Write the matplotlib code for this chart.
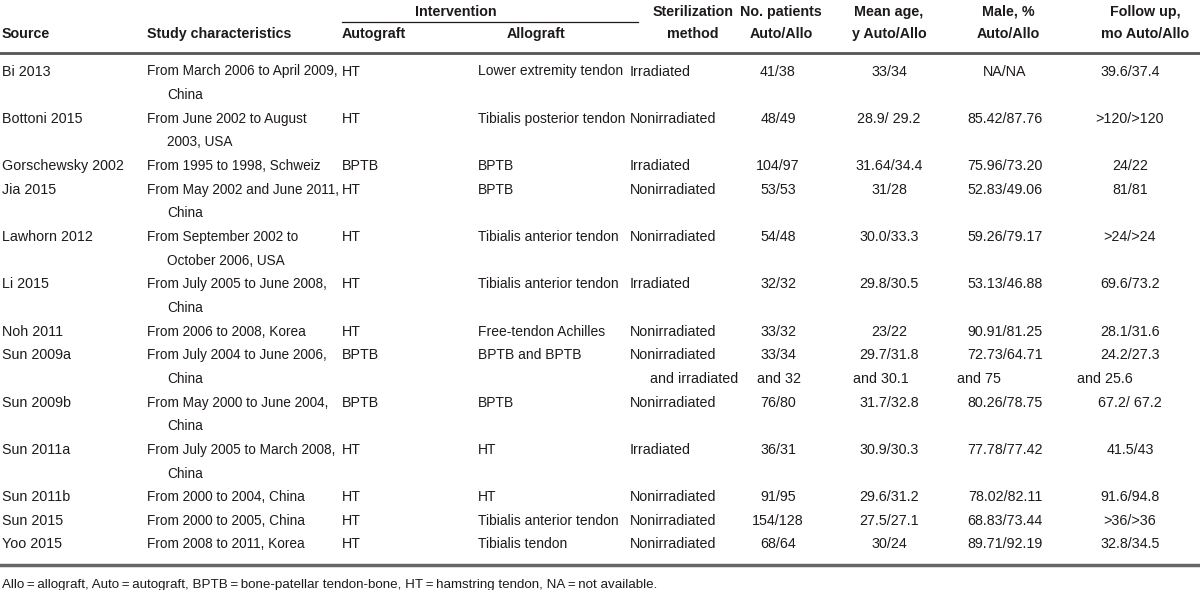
import matplotlib.pyplot as plt
from matplotlib import font_manager

# table content (one entry per study, "\n" marks a wrapped line)
sources = ["Bi 2013", "Bottoni 2015", "Gorschewsky 2002", "Jia 2015", "Lawhorn 2012",
           "Li 2015", "Noh 2011", "Sun 2009a", "Sun 2009b", "Sun 2011a", "Sun 2011b",
           "Sun 2015", "Yoo 2015"]
study = ["From March 2006 to April 2009,\nChina", "From June 2002 to August\n2003, USA",
         "From 1995 to 1998, Schweiz", "From May 2002 and June 2011,\nChina",
         "From September 2002 to\nOctober 2006, USA", "From July 2005 to June 2008,\nChina",
         "From 2006 to 2008, Korea", "From July 2004 to June 2006,\nChina",
         "From May 2000 to June 2004,\nChina", "From July 2005 to March 2008,\nChina",
         "From 2000 to 2004, China", "From 2000 to 2005, China", "From 2008 to 2011, Korea"]
autograft = ["HT", "HT", "BPTB", "HT", "HT", "HT", "HT", "BPTB", "BPTB", "HT", "HT", "HT", "HT"]
allograft = ["Lower extremity tendon", "Tibialis posterior tendon", "BPTB", "BPTB",
             "Tibialis anterior tendon", "Tibialis anterior tendon", "Free-tendon Achilles",
             "BPTB and BPTB", "BPTB", "HT", "HT", "Tibialis anterior tendon", "Tibialis tendon"]
sterilization = ["Irradiated", "Nonirradiated", "Irradiated", "Nonirradiated", "Nonirradiated",
                 "Irradiated", "Nonirradiated", "Nonirradiated\nand irradiated", "Nonirradiated",
                 "Irradiated", "Nonirradiated", "Nonirradiated", "Nonirradiated"]
patients = ["41/38", "48/49", "104/97", "53/53", "54/48", "32/32", "33/32", "33/34\nand 32",
            "76/80", "36/31", "91/95", "154/128", "68/64"]
mean_age = ["33/34", "28.9/ 29.2", "31.64/34.4", "31/28", "30.0/33.3", "29.8/30.5", "23/22",
            "29.7/31.8\nand 30.1", "31.7/32.8", "30.9/30.3", "29.6/31.2", "27.5/27.1", "30/24"]
male = ["NA/NA", "85.42/87.76", "75.96/73.20", "52.83/49.06", "59.26/79.17", "53.13/46.88",
        "90.91/81.25", "72.73/64.71\nand 75", "80.26/78.75", "77.78/77.42", "78.02/82.11",
        "68.83/73.44", "89.71/92.19"]
follow_up = ["39.6/37.4", ">120/>120", "24/22", "81/81", ">24/>24", "69.6/73.2", "28.1/31.6",
             "24.2/27.3\nand 25.6", "67.2/ 67.2", "41.5/43", "91.6/94.8", ">36/>36", "32.8/34.5"]
footnote = ("Allo\u2009=\u2009allograft, Auto\u2009=\u2009autograft, "
            "BPTB\u2009=\u2009bone-patellar tendon-bone, HT\u2009=\u2009hamstring tendon, "
            "NA\u2009=\u2009not available.")

# font: condensed sans if available
installed = {f.name for f in font_manager.fontManager.ttflist}
narrow = 'Liberation Sans Narrow' in installed
fam = ['Liberation Sans Narrow', 'DejaVu Sans'] if narrow else ['Liberation Sans', 'DejaVu Sans']
fs = 12.5 if narrow else 10.3
ink = '#1e1a1b'

fig = plt.figure(figsize=(12, 5.9), dpi=100)
ax = fig.add_axes([0, 0, 1, 1])
ax.set_xlim(0, 1200)
ax.set_ylim(590, 0)
ax.axis('off')


def put(x, y, s, ha='left', bold=False, size=fs):
    ax.text(x, y, s, ha=ha, va='baseline', fontsize=size, color=ink, family=fam,
            fontweight='bold' if bold else 'normal')


# header
hy1, hy2 = 16, 38
put(456, hy1, "Intervention", 'center', True)
ax.plot([342, 638], [21.5, 21.5], color=ink, lw=0.9)
put(2, hy2, "Source", bold=True)
put(147, hy2, "Study characteristics", bold=True)
put(342, hy2, "Autograft", bold=True)
put(536, hy2, "Allograft", 'center', True)
put(693, hy1, "Sterilization", 'center', True)
put(693, hy2, "method", 'center', True)
put(781, hy1, "No. patients", 'center', True)
put(781, hy2, "Auto/Allo", 'center', True)
put(889, hy1, "Mean age,", 'center', True)
put(889, hy2, "y Auto/Allo", 'center', True)
put(1008, hy1, "Male, %", 'center', True)
put(1008, hy2, "Auto/Allo", 'center', True)
put(1145, hy1, "Follow up,", 'center', True)
put(1145, hy2, "mo Auto/Allo", 'center', True)
ax.plot([0, 1200], [53, 53], color='#555555', lw=2.0)

# body
line_h = 23.65
text_cols = [(sources, 2, fs), (study, 147, fs * 0.95), (autograft, 342, fs),
             (allograft, 478, fs * 0.97), (sterilization, 630, fs)]
num_cols = [(patients, 778, 757), (mean_age, 889, 853), (male, 1005, 957), (follow_up, 1130, 1077)]
line = 0
for i in range(len(sources)):
    cells = [c[i] for c, _, _ in text_cols] + [c[i] for c, _, _ in num_cols]
    n = max(s.count("\n") + 1 for s in cells)
    base = 70 + line * line_h + 5.5
    for col, x, size in text_cols:
        for k, part in enumerate(col[i].split("\n")):
            put(x + (20 if k else 0), base + k * line_h, part, size=size)
    for col, xc, xl in num_cols:
        for k, part in enumerate(col[i].split("\n")):
            if k:
                put(xl, base + k * line_h, part)
            else:
                put(xc, base, part, 'center')
    line += n

ax.plot([0, 1200], [565, 565], color='#666666', lw=2.5)
put(2, 588, footnote, size=fs * 0.94)

fig.savefig('out.png', dpi=100)
